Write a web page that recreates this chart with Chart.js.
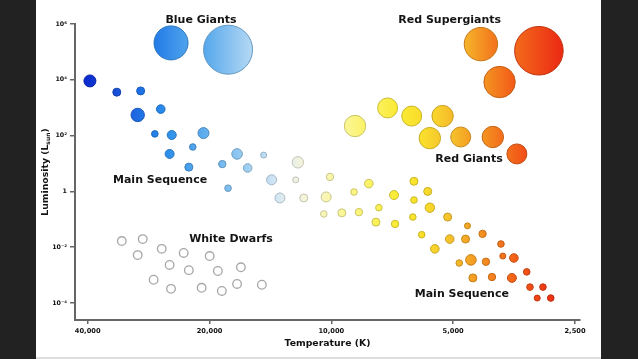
<!DOCTYPE html>
<html>
<head>
<meta charset="utf-8">
<title>H-R Diagram</title>
<script src="https://cdn.jsdelivr.net/npm/chart.js@4.4.1/dist/chart.umd.min.js"></script>
<style>
    body { margin: 0; background: #222; width: 638px; height: 359px; overflow: hidden; }
    #sheet { position: absolute; left: 36px; top: 0; width: 565px; height: 357px; background: #fff; }
    #edge { position: absolute; left: 36px; top: 357px; width: 565px; height: 2px; background: #ddd; }
</style>
</head>
<body>

<div id="sheet"><canvas id="hrChart" width="565" height="357"></canvas></div>
<div id="edge"></div>

<script>

// =============================
// DATA (temperature K, luminosity L/Lsun, bubble size)
// =============================

const msTemp = [39500, 33900, 29600, 30100, 26400, 27300, 24800, 20700, 22000, 25100,
                22500, 18600, 17100, 16100, 14700, 12100, 18000, 14050, 13400, 12250,
                11700, 10080, 10300, 8790, 8080, 7000, 6250, 5780, 6250, 5710,
                10440, 9420, 8550, 7630, 7760, 6960, 6290, 5160, 5980, 5100,
                4660, 4610, 4230, 5550, 3810, 4830, 4520, 4150, 3770, 3540,
                4470, 4010, 3580, 3290, 3230, 3000, 3100, 2870];
const msLum  = [9100, 3600, 4000, 550, 890, 115, 105, 123, 39, 22,
                7.4, 9.5, 22, 6.9, 20, 11, 1.3, 2.6, 0.58, 2.6,
                0.58, 3.3, 0.63, 0.95, 1.9, 0.74, 2.3, 1.0, 0.49, 0.26,
                0.155, 0.17, 0.18, 0.26, 0.079, 0.068, 0.12, 0.12, 0.028, 0.0195,
                0.0195, 0.058, 0.030, 0.0087, 0.013, 0.0027, 0.0035, 0.0030, 0.0048, 0.0041,
                0.00079, 0.00085, 0.00079, 0.0013, 0.00037, 0.00037, 0.00015, 0.00015];
const msSize = [6, 4, 4, 6.7, 4.3, 3.3, 4.5, 5.5, 3.3, 4.5,
                4, 3.7, 5.3, 4.3, 3, 5.7, 3.3, 5, 5, 3,
                4, 3.7, 5, 3.3, 4.3, 4.5, 4, 4, 3.3, 4.7,
                3.3, 4, 3.7, 3.3, 4, 3.7, 3.3, 4, 3.3, 4.3,
                4, 3, 3.7, 4.3, 3.3, 3.3, 5.3, 3.7, 3, 4.3,
                4, 3.7, 4.5, 3.3, 3.3, 3.3, 3, 3.3];

const giantTemp = [8740, 7260, 6330, 5310, 5710, 4790, 3990, 3480];
const giantLum  = [220, 980, 500, 500, 81, 89, 89, 22];
const giantSize = [10.7, 10, 10, 10.7, 10.7, 10, 10.7, 10];

const superTemp = [24900, 18000, 4270, 3070, 3840];
const superLum  = [210000, 120000, 190000, 110000, 8300];
const superSize = [17, 24.5, 16.7, 24.3, 15.7];

const dwarfTemp = [32950, 29250, 30100, 26250, 23170, 19980, 25100, 22500,
                   19080, 16730, 27490, 24900, 20920, 18650, 17100, 14850];
const dwarfLum  = [0.0166, 0.0195, 0.0052, 0.0087, 0.0062, 0.0048, 0.0023, 0.0015,
                   0.0014, 0.0019, 0.00068, 0.00032, 0.00035, 0.00027, 0.00048, 0.00045];

const xTicks = [40000, 20000, 10000, 5000, 2500];
const yTicks = [1e6, 1e4, 1e2, 1, 1e-2, 1e-4];
const yTickLabels = ["10\u2076", "10\u2074", "10\u00b2", "1", "10\u207b\u00b2", "10\u207b\u2074"];

const noteText = ["Blue Giants", "Red Supergiants", "Main Sequence", "White Dwarfs", "Red Giants", "Main Sequence"];
const noteTemp = [21000, 5100, 26500, 17700, 4570, 4760];
const noteLum  = [1.4e6, 1.4e6, 2.6, 0.0195, 14.5, 0.00021];


// =============================
// STAR COLOURS
// =============================

const colourStops = [
    [40000, [10, 40, 205]],
    [34000, [25, 80, 215]],
    [30000, [30, 110, 228]],
    [26000, [40, 140, 235]],
    [21000, [90, 170, 236]],
    [17000, [140, 198, 240]],
    [14000, [205, 228, 246]],
    [12000, [244, 244, 226]],
    [10000, [250, 246, 170]],
    [8500,  [252, 245, 120]],
    [7000,  [250, 236, 55]],
    [6000,  [250, 224, 42]],
    [5000,  [245, 190, 45]],
    [4500,  [244, 160, 35]],
    [4000,  [244, 128, 30]],
    [3500,  [242, 95, 25]],
    [3000,  [240, 60, 20]],
    [2700,  [235, 40, 20]]
];

function starColour(t) {
    if (t >= colourStops[0][0]) return colourStops[0][1];
    for (let i = 0; i < colourStops.length - 1; i++) {
        const a = colourStops[i], b = colourStops[i + 1];
        if (t >= b[0]) {
            const f = (Math.log(a[0]) - Math.log(t)) / (Math.log(a[0]) - Math.log(b[0]));
            return a[1].map((c, k) => Math.round(c + (b[1][k] - c) * f));
        }
    }
    return colourStops[colourStops.length - 1][1];
}

function rgb(c) {
    return "rgb(" + c[0] + "," + c[1] + "," + c[2] + ")";
}

function bubbleFill(ctx) {
    const raw = ctx.raw;
    if (!raw) return "#ccc";
    const chart = ctx.chart;
    if (!chart.chartArea || !chart.scales.x) return rgb(starColour(raw.x));
    const px = chart.scales.x.getPixelForValue(raw.x);
    const k = 1 + 0.008 * raw.r;
    const g = chart.ctx.createLinearGradient(px - raw.r, 0, px + raw.r, 0);
    g.addColorStop(0, rgb(starColour(raw.x * k)));
    g.addColorStop(1, rgb(starColour(raw.x / k)));
    return g;
}

function bubbleEdge(ctx) {
    if (!ctx.raw) return "#999";
    const c = starColour(ctx.raw.x).map(v => Math.round(v * 0.8));
    return rgb(c);
}

function toPoints(temps, lums, sizes) {
    return temps.map((t, i) => ({ x: t, y: lums[i], r: Array.isArray(sizes) ? sizes[i] : sizes }));
}


// =============================
// LABELS PLUGIN
// =============================

const fontFamily = '"DejaVu Sans", Verdana, sans-serif';

const notesPlugin = {
    id: "notes",
    afterDraw(chart) {
        const ctx = chart.ctx;
        const xs = chart.scales.x, ys = chart.scales.y;

        ctx.save();
        ctx.fillStyle = "#141414";
        ctx.font = "bold 11px " + fontFamily;
        ctx.textAlign = "center";
        ctx.textBaseline = "middle";
        noteText.forEach((txt, i) => {
            ctx.fillText(txt, xs.getPixelForValue(noteTemp[i]), ys.getPixelForValue(noteLum[i]));
        });

        // y axis title with subscript
        const mainFont = "bold 9.3px " + fontFamily;
        const subFont = "bold 6px " + fontFamily;
        ctx.font = mainFont;
        const w1 = ctx.measureText("Luminosity (L").width;
        const w3 = ctx.measureText(")").width;
        ctx.font = subFont;
        const w2 = ctx.measureText("sun").width;
        const total = w1 + w2 + w3;

        ctx.translate(9.5, (chart.chartArea.top + chart.chartArea.bottom) / 2);
        ctx.rotate(-Math.PI / 2);
        ctx.textAlign = "left";
        ctx.textBaseline = "middle";
        let x = -total / 2;
        ctx.font = mainFont;
        ctx.fillText("Luminosity (L", x, 0);
        x += w1;
        ctx.font = subFont;
        ctx.fillText("sun", x, 3);
        x += w2;
        ctx.font = mainFont;
        ctx.fillText(")", x, 0);
        ctx.restore();
    }
};


// =============================
// CHART
// =============================

new Chart(document.getElementById("hrChart"), {
    type: "bubble",
    data: {
        datasets: [
            {
                label: "Supergiants",
                data: toPoints(superTemp, superLum, superSize),
                backgroundColor: bubbleFill,
                borderColor: bubbleEdge,
                borderWidth: 1
            },
            {
                label: "Giants",
                data: toPoints(giantTemp, giantLum, giantSize),
                backgroundColor: bubbleFill,
                borderColor: bubbleEdge,
                borderWidth: 1
            },
            {
                label: "Main Sequence",
                data: toPoints(msTemp, msLum, msSize),
                backgroundColor: bubbleFill,
                borderColor: bubbleEdge,
                borderWidth: 1
            },
            {
                label: "White Dwarfs",
                data: toPoints(dwarfTemp, dwarfLum, 4.3),
                backgroundColor: "#fff",
                borderColor: "#a6a6a6",
                borderWidth: 1.3
            }
        ]
    },
    options: {
        responsive: false,
        animation: false,
        events: [],
        layout: {
            autoPadding: false,
            padding: { top: 24, right: 21, left: 0, bottom: 0 }
        },
        plugins: {
            legend: { display: false },
            tooltip: { enabled: false }
        },
        scales: {
            x: {
                type: "logarithmic",
                reverse: true,
                min: 2430,
                max: 43000,
                bounds: "data",
                afterFit: s => { s.height = 37; },
                afterBuildTicks: s => { s.ticks = xTicks.map(v => ({ value: v })); },
                grid: { drawOnChartArea: false, drawTicks: true, tickLength: 4, color: "#666", lineWidth: 1.5 },
                border: { display: true, color: "#666", width: 2 },
                ticks: {
                    autoSkip: false,
                    maxRotation: 0,
                    padding: 3,
                    color: "#111",
                    font: { family: fontFamily, size: 6.7, weight: "bold" },
                    callback: v => v.toLocaleString("en-US")
                },
                title: {
                    display: true,
                    text: "Temperature (K)",
                    color: "#111",
                    padding: { top: 0, bottom: 8 },
                    font: { family: fontFamily, size: 9.3, weight: "bold" }
                }
            },
            y: {
                type: "logarithmic",
                min: 2.45e-5,
                max: 1e6,
                bounds: "data",
                afterFit: s => { s.width = 39; },
                afterBuildTicks: s => { s.ticks = yTicks.map(v => ({ value: v })); },
                grid: { drawOnChartArea: false, drawTicks: true, tickLength: 5, color: "#666", lineWidth: 1.5 },
                border: { display: true, color: "#666", width: 2 },
                ticks: {
                    autoSkip: false,
                    padding: 3,
                    color: "#111",
                    font: { family: fontFamily, size: 6.3, weight: "bold" },
                    callback: (v, i) => yTickLabels[i]
                }
            }
        }
    },
    plugins: [notesPlugin]
});

</script>
</body>
</html>
